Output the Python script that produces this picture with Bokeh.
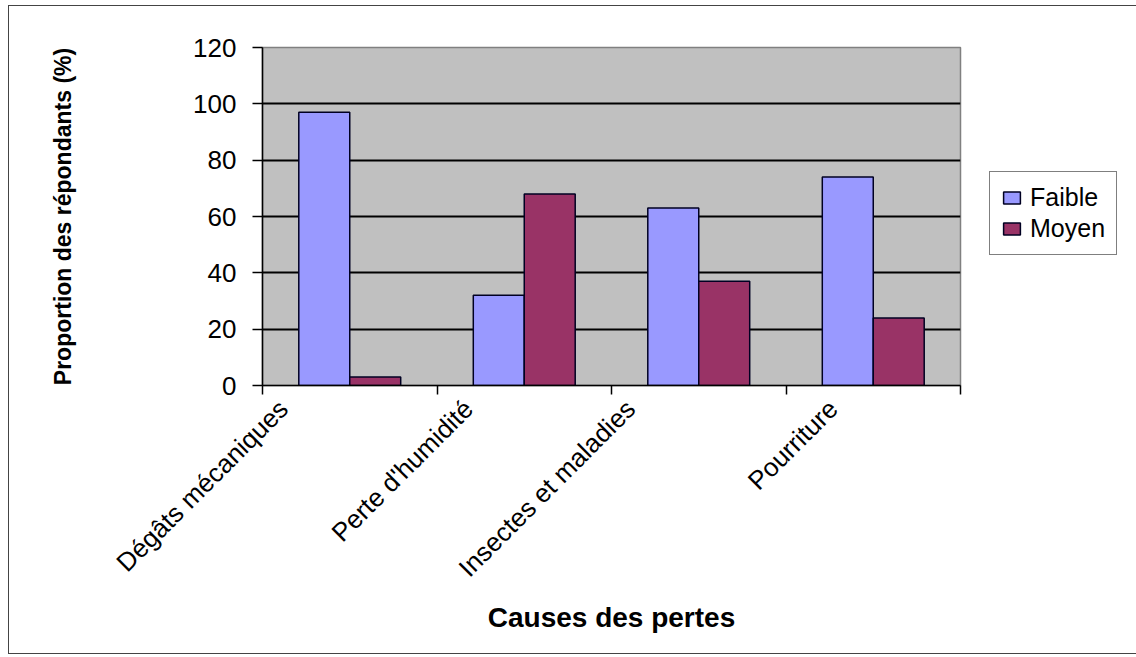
import math
from bokeh.plotting import figure
from bokeh.models import (ColumnDataSource, FixedTicker, CustomJSTickFormatter,
                          Legend, LegendItem, Range1d)
from bokeh.transform import dodge
from bokeh.embed import file_html
from bokeh.resources import INLINE

# ---- data ----
categories = ["Dégâts mécaniques", "Perte d'humidité", "Insectes et maladies", "Pourriture"]
faible = [97, 32, 63, 74]
moyen = [3, 68, 37, 24]
y_ticks = [0, 20, 40, 60, 80, 100, 120]
series_names = ["Faible", "Moyen"]

# ---- layout constants ----
label_shift = [0.12, 0.18, 0.11, 0.27]   # where each rotated label ends, within its slot
FONT = "Liberation Sans"

idx = list(range(len(categories)))
src = ColumnDataSource(dict(
    x=[i + 0.5 for i in idx],
    faible=faible,
    moyen=moyen,
))

p = figure(
    output_backend="svg", toolbar_location=None,
    frame_width=698, frame_height=338,
    min_border_left=253, min_border_top=41, min_border_right=169, min_border_bottom=268,
    x_range=Range1d(0, len(categories)), y_range=Range1d(0, 120),
    background_fill_color="#c0c0c0", border_fill_color="white",
    outline_line_color="#808080", outline_line_width=1.5,
    margin=(5, 0, 0, 8),
)
p.styles = {"border": "1px solid #444444"}

bw = 0.292
r1 = p.vbar(x=dodge("x", -bw / 2, range=p.x_range), top="faible", width=bw, source=src,
            fill_color="#9999ff", line_color="#000022", line_width=1.5)
r2 = p.vbar(x=dodge("x", bw / 2, range=p.x_range), top="moyen", width=bw, source=src,
            fill_color="#993366", line_color="#000022", line_width=1.5)

# grid
p.xgrid.visible = False
p.ygrid.ticker = FixedTicker(ticks=y_ticks[1:-1])
p.ygrid.grid_line_color = "black"
p.ygrid.grid_line_width = 2

# y axis
ya = p.yaxis[0]
ya.ticker = FixedTicker(ticks=y_ticks)
ya.axis_line_color = "black"
ya.axis_line_width = 1.5
ya.major_tick_out = 10
ya.major_tick_in = 0
ya.major_tick_line_color = "black"
ya.major_tick_line_width = 1.5
ya.minor_tick_out = 0
ya.minor_tick_in = 0
ya.major_label_text_font = FONT
ya.major_label_text_font_size = "26px"
ya.major_label_text_color = "black"
ya.major_label_standoff = 16
ya.axis_label = "Proportion des répondants (%)"
ya.axis_label_text_font = FONT
ya.axis_label_text_font_size = "23px"
ya.axis_label_text_font_style = "bold"
ya.axis_label_text_color = "black"
ya.axis_label_standoff = 114

# x axis
xa = p.xaxis[0]
label_pos = [i + s for i, s in zip(idx, label_shift)]
xa.ticker = FixedTicker(ticks=label_pos, minor_ticks=list(range(len(categories) + 1)))
xa.formatter = CustomJSTickFormatter(args=dict(labels=categories), code="return labels[index];")
xa.axis_line_color = "black"
xa.axis_line_width = 1.5
xa.major_tick_out = 0
xa.major_tick_in = 0
xa.minor_tick_out = 9
xa.minor_tick_in = 0
xa.minor_tick_line_color = "black"
xa.minor_tick_line_width = 1.5
xa.major_label_orientation = math.pi / 4
xa.major_label_text_font = FONT
xa.major_label_text_font_size = "26px"
xa.major_label_text_color = "black"
xa.major_label_standoff = 10
xa.axis_label = "Causes des pertes"
xa.axis_label_text_font = FONT
xa.axis_label_text_font_size = "28px"
xa.axis_label_text_font_style = "bold"
xa.axis_label_text_color = "black"
xa.axis_label_standoff = 6

legend = Legend(
    items=[LegendItem(label=series_names[0], renderers=[r1]),
           LegendItem(label=series_names[1], renderers=[r2])],
    location=(29, 130),
    label_text_font=FONT, label_text_font_size="25px", label_text_color="black",
    glyph_width=21, glyph_height=15, label_standoff=8,
    padding=11, spacing=2, margin=0,
    border_line_color="black", border_line_width=1.5,
    background_fill_color="white", background_fill_alpha=1,
)
p.add_layout(legend, "right")

open("out.html", "w").write(file_html(p, INLINE))
